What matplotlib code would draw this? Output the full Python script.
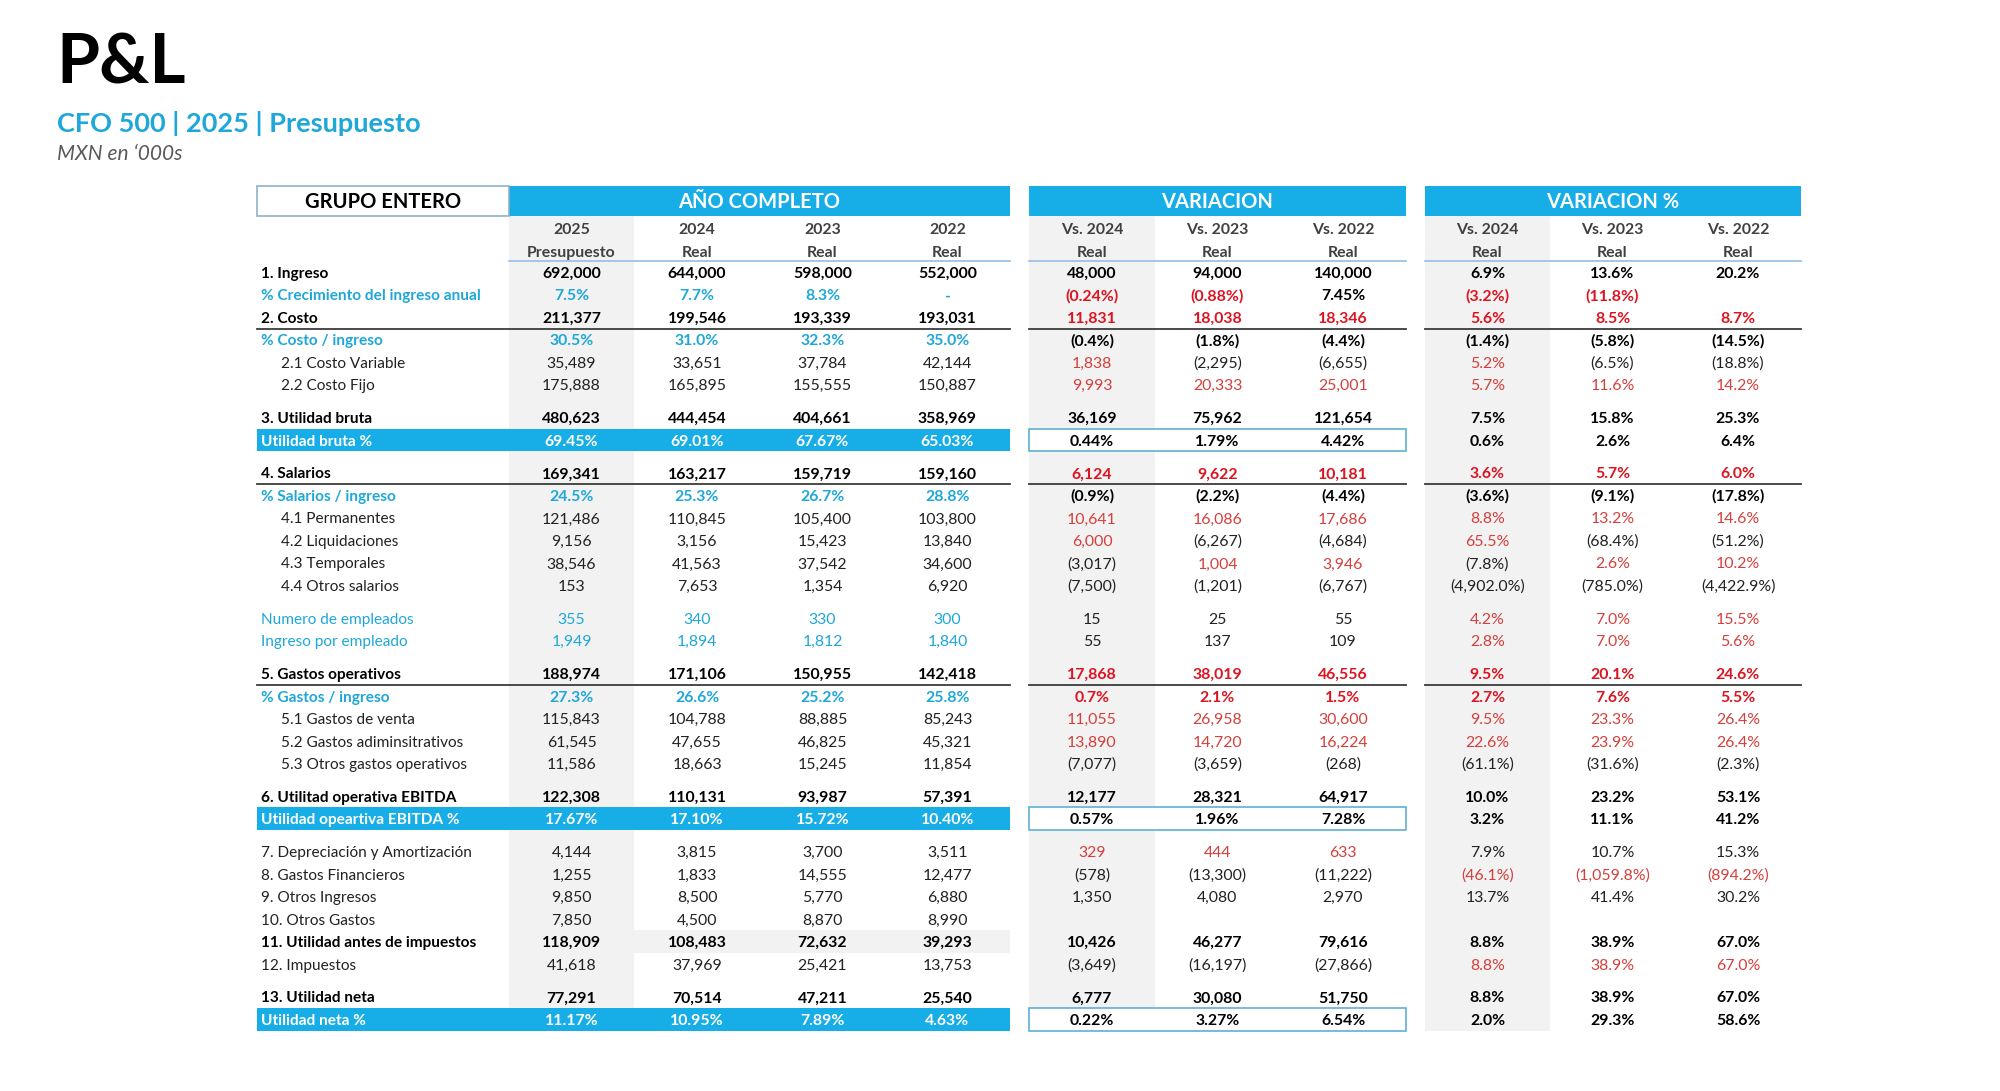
import matplotlib
matplotlib.use('Agg')
import matplotlib.pyplot as plt
from matplotlib.patches import Rectangle

plt.rcParams['font.family'] = ['Lato', 'DejaVu Sans']

BLUE = '#17ADE6'
CYAN = '#1FA7DA'
RED_B = '#DC1420'
RED = '#D4403C'
GRAY_BG = '#F2F2F2'
DARK = '#222222'
HEAD = '#404040'

# ---------------- data ----------------
year_cols = ['2025', '2024', '2023', '2022']
year_sub = ['Presupuesto', 'Real', 'Real', 'Real']
var_cols = ['Vs. 2024', 'Vs. 2023', 'Vs. 2022']
var_sub = ['Real', 'Real', 'Real']

labels = [
    '1. Ingreso', '% Crecimiento del ingreso anual', '2. Costo', '% Costo / ingreso',
    '2.1 Costo Variable', '2.2 Costo Fijo', None,
    '3. Utilidad bruta', 'Utilidad bruta %', None,
    '4. Salarios', '% Salarios / ingreso', '4.1 Permanentes', '4.2 Liquidaciones',
    '4.3 Temporales', '4.4 Otros salarios', None,
    'Numero de empleados', 'Ingreso por empleado', None,
    '5. Gastos operativos', '% Gastos / ingreso', '5.1 Gastos de venta',
    '5.2 Gastos adiminsitrativos', '5.3 Otros gastos operativos', None,
    '6. Utilitad operativa EBITDA', 'Utilidad opeartiva EBITDA %', None,
    '7. Depreciación y Amortización', '8. Gastos Financieros', '9. Otros Ingresos',
    '10. Otros Gastos', '11. Utilidad antes de impuestos', '12. Impuestos', None,
    '13. Utilidad neta', 'Utilidad neta %',
]
kinds = [
    'total', 'ratio', 'total', 'ratio', 'item', 'item', None,
    'total', 'band', None,
    'total', 'ratio', 'item', 'item', 'item', 'item', None,
    'info', 'info', None,
    'total', 'ratio', 'item', 'item', 'item', None,
    'total', 'band', None,
    'plain', 'plain', 'plain', 'plain', 'pretax', 'plain', None,
    'total', 'band',
]
anio = [
    ['692,000', '644,000', '598,000', '552,000'],
    ['7.5%', '7.7%', '8.3%', '-'],
    ['211,377', '199,546', '193,339', '193,031'],
    ['30.5%', '31.0%', '32.3%', '35.0%'],
    ['35,489', '33,651', '37,784', '42,144'],
    ['175,888', '165,895', '155,555', '150,887'],
    None,
    ['480,623', '444,454', '404,661', '358,969'],
    ['69.45%', '69.01%', '67.67%', '65.03%'],
    None,
    ['169,341', '163,217', '159,719', '159,160'],
    ['24.5%', '25.3%', '26.7%', '28.8%'],
    ['121,486', '110,845', '105,400', '103,800'],
    ['9,156', '3,156', '15,423', '13,840'],
    ['38,546', '41,563', '37,542', '34,600'],
    ['153', '7,653', '1,354', '6,920'],
    None,
    ['355', '340', '330', '300'],
    ['1,949', '1,894', '1,812', '1,840'],
    None,
    ['188,974', '171,106', '150,955', '142,418'],
    ['27.3%', '26.6%', '25.2%', '25.8%'],
    ['115,843', '104,788', '88,885', '85,243'],
    ['61,545', '47,655', '46,825', '45,321'],
    ['11,586', '18,663', '15,245', '11,854'],
    None,
    ['122,308', '110,131', '93,987', '57,391'],
    ['17.67%', '17.10%', '15.72%', '10.40%'],
    None,
    ['4,144', '3,815', '3,700', '3,511'],
    ['1,255', '1,833', '14,555', '12,477'],
    ['9,850', '8,500', '5,770', '6,880'],
    ['7,850', '4,500', '8,870', '8,990'],
    ['118,909', '108,483', '72,632', '39,293'],
    ['41,618', '37,969', '25,421', '13,753'],
    None,
    ['77,291', '70,514', '47,211', '25,540'],
    ['11.17%', '10.95%', '7.89%', '4.63%'],
]
variacion = [
    ['48,000', '94,000', '140,000'],
    ['(0.24%)', '(0.88%)', '7.45%'],
    ['11,831', '18,038', '18,346'],
    ['(0.4%)', '(1.8%)', '(4.4%)'],
    ['1,838', '(2,295)', '(6,655)'],
    ['9,993', '20,333', '25,001'],
    None,
    ['36,169', '75,962', '121,654'],
    ['0.44%', '1.79%', '4.42%'],
    None,
    ['6,124', '9,622', '10,181'],
    ['(0.9%)', '(2.2%)', '(4.4%)'],
    ['10,641', '16,086', '17,686'],
    ['6,000', '(6,267)', '(4,684)'],
    ['(3,017)', '1,004', '3,946'],
    ['(7,500)', '(1,201)', '(6,767)'],
    None,
    ['15', '25', '55'],
    ['55', '137', '109'],
    None,
    ['17,868', '38,019', '46,556'],
    ['0.7%', '2.1%', '1.5%'],
    ['11,055', '26,958', '30,600'],
    ['13,890', '14,720', '16,224'],
    ['(7,077)', '(3,659)', '(268)'],
    None,
    ['12,177', '28,321', '64,917'],
    ['0.57%', '1.96%', '7.28%'],
    None,
    ['329', '444', '633'],
    ['(578)', '(13,300)', '(11,222)'],
    ['1,350', '4,080', '2,970'],
    ['', '', ''],
    ['10,426', '46,277', '79,616'],
    ['(3,649)', '(16,197)', '(27,866)'],
    None,
    ['6,777', '30,080', '51,750'],
    ['0.22%', '3.27%', '6.54%'],
]
variacion_pct = [
    ['6.9%', '13.6%', '20.2%'],
    ['(3.2%)', '(11.8%)', ''],
    ['5.6%', '8.5%', '8.7%'],
    ['(1.4%)', '(5.8%)', '(14.5%)'],
    ['5.2%', '(6.5%)', '(18.8%)'],
    ['5.7%', '11.6%', '14.2%'],
    None,
    ['7.5%', '15.8%', '25.3%'],
    ['0.6%', '2.6%', '6.4%'],
    None,
    ['3.6%', '5.7%', '6.0%'],
    ['(3.6%)', '(9.1%)', '(17.8%)'],
    ['8.8%', '13.2%', '14.6%'],
    ['65.5%', '(68.4%)', '(51.2%)'],
    ['(7.8%)', '2.6%', '10.2%'],
    ['(4,902.0%)', '(785.0%)', '(4,422.9%)'],
    None,
    ['4.2%', '7.0%', '15.5%'],
    ['2.8%', '7.0%', '5.6%'],
    None,
    ['9.5%', '20.1%', '24.6%'],
    ['2.7%', '7.6%', '5.5%'],
    ['9.5%', '23.3%', '26.4%'],
    ['22.6%', '23.9%', '26.4%'],
    ['(61.1%)', '(31.6%)', '(2.3%)'],
    None,
    ['10.0%', '23.2%', '53.1%'],
    ['3.2%', '11.1%', '41.2%'],
    None,
    ['7.9%', '10.7%', '15.3%'],
    ['(46.1%)', '(1,059.8%)', '(894.2%)'],
    ['13.7%', '41.4%', '30.2%'],
    ['', '', ''],
    ['8.8%', '38.9%', '67.0%'],
    ['8.8%', '38.9%', '67.0%'],
    None,
    ['8.8%', '38.9%', '67.0%'],
    ['2.0%', '29.3%', '58.6%'],
]
# 'R' marks the variance cells shown in red (3 variacion + 3 variacion %)
red_cells = [
    '......', 'RR.RR.', 'RRRRRR', '......', 'R..R..', 'RRRRRR', None,
    '......', '......', None,
    'RRRRRR', '......', 'RRRRRR', 'R..R..', '.RR.RR', '......', None,
    '...RRR', '...RRR', None,
    'RRRRRR', 'RRRRRR', 'RRRRRR', 'RRRRRR', '......', None,
    '......', '......', None,
    'RRR...', '...RRR', '......', '......', '......', '...RRR', None,
    '......', '......',
]
underlined = ['2. Costo', '4. Salarios', '5. Gastos operativos']

# ---------------- layout ----------------
fig = plt.figure(figsize=(20, 10.91), dpi=100)
ax = fig.add_axes([0, 0, 1, 1])
ax.set_xlim(0, 2000)
ax.set_ylim(1091, 0)
ax.axis('off')

LBL_X0 = 257
sec1_edges = [509, 634, 760, 885, 1010]
sec2_edges = [1029, 1155, 1280, 1406]
sec3_edges = [1425, 1550, 1675, 1801]
SEC1_X0, SEC1_X1 = sec1_edges[0], sec1_edges[-1]
c1 = [(a + b) / 2 for a, b in zip(sec1_edges[:-1], sec1_edges[1:])]
c2 = [(a + b) / 2 for a, b in zip(sec2_edges[:-1], sec2_edges[1:])]
c3 = [(a + b) / 2 for a, b in zip(sec3_edges[:-1], sec3_edges[1:])]

BAR_TOP, BAR_BOT = 186, 216
TABLE_TOP = 261
PITCH, BLANK = 22.5, 10.3
FS = 11.4
FS_LBL = 11.1
BASE = 5.6

# row tops
tops = []
y = TABLE_TOP
for k in kinds:
    tops.append(y)
    y += BLANK if k is None else PITCH
table_bot = y

# title block
ax.text(56, 83, 'P&L', fontsize=50, fontweight='bold', color='black', va='baseline')
ax.text(57, 132, 'CFO 500 | 2025 | Presupuesto', fontsize=19.5, fontweight='bold',
        color=CYAN, va='baseline')
ax.text(57, 160, 'MXN en \u2018000s', fontsize=15, fontstyle='italic',
        color='#595959', va='baseline')

# gray highlighted columns
ax.add_patch(Rectangle((sec1_edges[0], BAR_BOT), sec1_edges[1] - sec1_edges[0],
                       table_bot - BAR_BOT, color=GRAY_BG, lw=0, zorder=0))
ax.add_patch(Rectangle((sec2_edges[0], BAR_BOT), sec2_edges[1] - sec2_edges[0],
                       table_bot - PITCH - BAR_BOT, color=GRAY_BG, lw=0, zorder=0))
ax.add_patch(Rectangle((sec3_edges[0], BAR_BOT), sec3_edges[1] - sec3_edges[0],
                       table_bot - BAR_BOT, color=GRAY_BG, lw=0, zorder=0))

# header bars
ax.add_patch(Rectangle((LBL_X0, BAR_TOP), SEC1_X0 - LBL_X0, BAR_BOT - BAR_TOP,
                       facecolor='white', edgecolor='#8DB3C7', lw=1.2, zorder=2))
ax.text((LBL_X0 + SEC1_X0) / 2, (BAR_TOP + BAR_BOT) / 2 + 7.5, 'GRUPO ENTERO',
        fontsize=14.5, fontweight='bold', color='black', ha='center', va='baseline')
for edges, title in [(sec1_edges, 'AÑO COMPLETO'), (sec2_edges, 'VARIACION'),
                     (sec3_edges, 'VARIACION %')]:
    ax.add_patch(Rectangle((edges[0], BAR_TOP), edges[-1] - edges[0], BAR_BOT - BAR_TOP,
                           color=BLUE, lw=0, zorder=1))
    ax.text((edges[0] + edges[-1]) / 2, (BAR_TOP + BAR_BOT) / 2 + 7.5, title,
            fontsize=14.5, fontweight='bold', color='white', ha='center', va='baseline')
    ax.plot([edges[0], edges[-1]], [TABLE_TOP, TABLE_TOP], color='#9DC3E6', lw=1.3)

# column headers
for xs, top, sub in [(c1, year_cols, year_sub), (c2, var_cols, var_sub), (c3, var_cols, var_sub)]:
    for x, t, s in zip(xs, top, sub):
        ax.text(x, 228 + BASE, t, fontsize=FS, fontweight='bold', color=HEAD,
                ha='center', va='baseline')
        ax.text(x, 251 + BASE, s, fontsize=FS, fontweight='bold', color=HEAD,
                ha='center', va='baseline')

# body
for i, kind in enumerate(kinds):
    if kind is None:
        continue
    top = tops[i]
    yb = top + PITCH / 2 + BASE
    lab = labels[i]
    bold = kind in ('total', 'ratio', 'band', 'pretax')

    if kind == 'band':
        ax.add_patch(Rectangle((LBL_X0, top), SEC1_X1 - LBL_X0, PITCH, color=BLUE,
                               lw=0, zorder=1))
        ax.add_patch(Rectangle((sec2_edges[0], top), sec2_edges[-1] - sec2_edges[0], PITCH,
                               facecolor='white', edgecolor='#5FB2D2', lw=1.2, zorder=1))
    if kind == 'pretax':
        ax.add_patch(Rectangle((SEC1_X0, top), SEC1_X1 - SEC1_X0, PITCH, color=GRAY_BG,
                               lw=0, zorder=0))

    if kind == 'band':
        lcol, vcol = 'white', 'white'
    elif kind in ('ratio', 'info'):
        lcol, vcol = CYAN, CYAN
    else:
        lcol, vcol = 'black' if bold else DARK, 'black' if bold else DARK
    lx = 281 if kind == 'item' else 261
    ax.text(lx, yb, lab, fontsize=FS_LBL, fontweight='bold' if bold else 'normal',
            color=lcol, ha='left', va='baseline', zorder=4)

    for x, v in zip(c1, anio[i]):
        ax.text(x, yb, v, fontsize=FS, fontweight='bold' if bold else 'normal',
                color=vcol, ha='center', va='baseline', zorder=4)

    mask = red_cells[i]
    for j, (x, v) in enumerate(zip(c2 + c3, variacion[i] + variacion_pct[i])):
        if mask[j] == 'R':
            col = RED_B if bold else RED
        else:
            col = 'black' if bold else DARK
        ax.text(x, yb, v, fontsize=FS, fontweight='bold' if bold else 'normal',
                color=col, ha='center', va='baseline', zorder=4)

    if lab in underlined:
        yl = top + PITCH
        for x0, x1 in [(LBL_X0, SEC1_X1), (sec2_edges[0], sec2_edges[-1]),
                       (sec3_edges[0], sec3_edges[-1])]:
            ax.plot([x0, x1], [yl, yl], color='#3C3C3C', lw=1.3, zorder=3)

fig.savefig('out.png', dpi=100, facecolor='white')
